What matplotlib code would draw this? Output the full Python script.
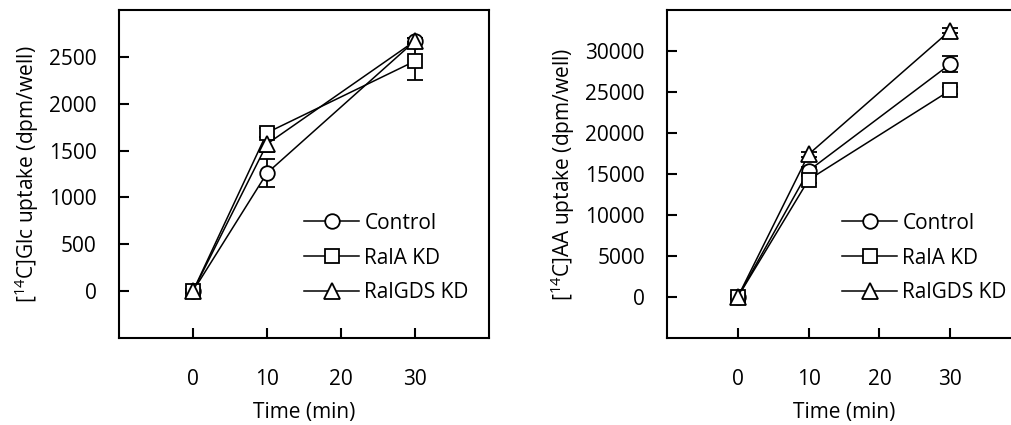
import matplotlib
matplotlib.use("Agg")
import matplotlib.pyplot as plt

plt.rcParams['font.family'] = ['Open Sans', 'DejaVu Sans']
plt.rcParams['mathtext.fontset'] = 'custom'
plt.rcParams['mathtext.rm'] = 'Open Sans'

time = [0, 10, 30]
series = ["Control", "RalA KD", "RalGDS KD"]
markers = ["o", "s", "^"]
marker_sizes = [10.5, 10, 12]

glc_control = [0, 1260, 2670]
glc_control_err = [20, 150, 30]
glc_rala = [0, 1690, 2455]
glc_rala_err = [20, 50, 200]
glc_ralgds = [0, 1570, 2670]
glc_ralgds_err = [20, 80, 30]

aa_control = [0, 15400, 28400]
aa_control_err = [200, 500, 1000]
aa_rala = [0, 14300, 25200]
aa_rala_err = [200, 400, 400]
aa_ralgds = [0, 17400, 32500]
aa_ralgds_err = [200, 300, 300]

glc_ticks = [0, 500, 1000, 1500, 2000, 2500]
aa_ticks = [0, 5000, 10000, 15000, 20000, 25000, 30000]
x_ticks = [0, 10, 20, 30]

FS = 15
W, H = 1012, 425
fig = plt.figure(figsize=(W / 100, H / 100), dpi=100)
ax1 = fig.add_axes([119 / W, 87 / H, 370 / W, 328 / H])
ax2 = fig.add_axes([667 / W, 87 / H, 354 / W, 328 / H])


def draw(ax, ys, errs, ylim, yticks, ylabel, legend_anchor):
    for y, e, m, ms, name in zip(ys, errs, markers, marker_sizes, series):
        ax.errorbar(time, y, yerr=e, color='black', marker=m, markersize=ms,
                    markerfacecolor='white', markeredgecolor='black',
                    markeredgewidth=1.3, linewidth=1.1, elinewidth=1.3,
                    capsize=6, capthick=1.3, label=name)
    ax.set_xlim(-10, 40)
    ax.set_ylim(*ylim)
    ax.set_xticks(x_ticks)
    ax.set_yticks(yticks)
    ax.tick_params(direction='in', length=7, width=1.5, labelsize=FS)
    ax.tick_params(axis='x', pad=22)
    ax.tick_params(axis='y', pad=16)
    for s in ax.spines.values():
        s.set_linewidth(1.5)
    ax.set_xlabel('Time (min)', fontsize=FS, labelpad=9)
    ax.set_ylabel(ylabel, fontsize=FS, labelpad=6)
    handles, labels = ax.get_legend_handles_labels()
    handles = [h[0] for h in handles]
    ax.legend(handles, labels, loc='center left', bbox_to_anchor=legend_anchor,
              bbox_transform=fig.transFigure, frameon=False, fontsize=FS,
              handlelength=2.65, handletextpad=0.25, labelspacing=0.66,
              borderpad=0, borderaxespad=0)


draw(ax1, [glc_control, glc_rala, glc_ralgds],
     [glc_control_err, glc_rala_err, glc_ralgds_err],
     (-500, 3000), glc_ticks, r'[$^{14}$C]Glc uptake (dpm/well)', (304 / W, 167 / H))
draw(ax2, [aa_control, aa_rala, aa_ralgds],
     [aa_control_err, aa_rala_err, aa_ralgds_err],
     (-5000, 35000), aa_ticks, r'[$^{14}$C]AA uptake (dpm/well)', (842 / W, 167 / H))

fig.savefig('out.png', dpi=100)
